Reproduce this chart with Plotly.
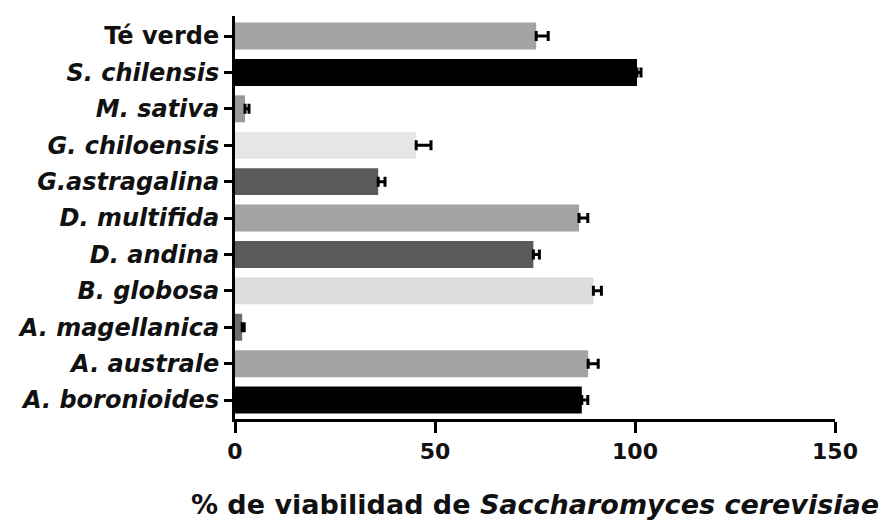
import plotly.graph_objects as go

# Extract names, listed top to bottom
extracts = ["Té verde", "S. chilensis", "M. sativa", "G. chiloensis", "G.astragalina",
            "D. multifida", "D. andina", "B. globosa", "A. magellanica",
            "A. australe", "A. boronioides"]
italic = [False, True, True, True, True, True, True, True, True, True, True]

# Mean viability (%) and standard error
viability = [75.3, 100.5, 2.5, 45.3, 35.8, 86.0, 74.6, 89.6, 1.8, 88.3, 86.7]
error = [3.0, 1.0, 1.0, 3.7, 1.7, 2.2, 1.5, 2.0, 0.5, 2.5, 1.5]

colors = ["#a3a3a3", "#000000", "#9a9a9a", "#e6e6e6", "#5a5a5a", "#a3a3a3",
          "#5a5a5a", "#dcdcdc", "#6e6e6e", "#a3a3a3", "#000000"]

x_ticks = [0, 50, 100, 150]

ticktext = [f"<b><i>{n}</i></b>" if it else f"<b>{n}</b>" for n, it in zip(extracts, italic)]

fig = go.Figure(go.Bar(
    y=extracts,
    x=viability,
    orientation="h",
    width=0.74,
    marker=dict(color=colors, line=dict(width=0)),
    error_x=dict(type="data", array=error, arrayminus=[0] * len(error), symmetric=False,
                 color="black", thickness=3, width=5),
))

fig.update_layout(
    width=895, height=531,
    margin=dict(l=235, r=60, t=16, b=112),
    paper_bgcolor="white", plot_bgcolor="white",
    font=dict(family="DejaVu Sans, Arial, sans-serif", color="#111111"),
    showlegend=False,
)

fig.update_xaxes(
    range=[0, 150], tickvals=x_ticks, ticktext=[f"<b>{v}</b>" for v in x_ticks],
    showline=True, linecolor="black", linewidth=3,
    ticks="outside", ticklen=11, tickwidth=3, tickcolor="black",
    showgrid=False, zeroline=False,
    tickfont=dict(size=22),
    title=dict(text="<b>% de viabilidad de <i>Saccharomyces cerevisiae</i></b>",
               font=dict(size=27), standoff=32),
)

fig.update_yaxes(
    range=[10.52, -0.55], tickvals=extracts, ticktext=ticktext,
    showline=True, linecolor="black", linewidth=3,
    ticks="outside", ticklen=8, tickwidth=3, tickcolor="black",
    showgrid=False, zeroline=False,
    tickfont=dict(size=24),
)

fig.write_html("out.html")
